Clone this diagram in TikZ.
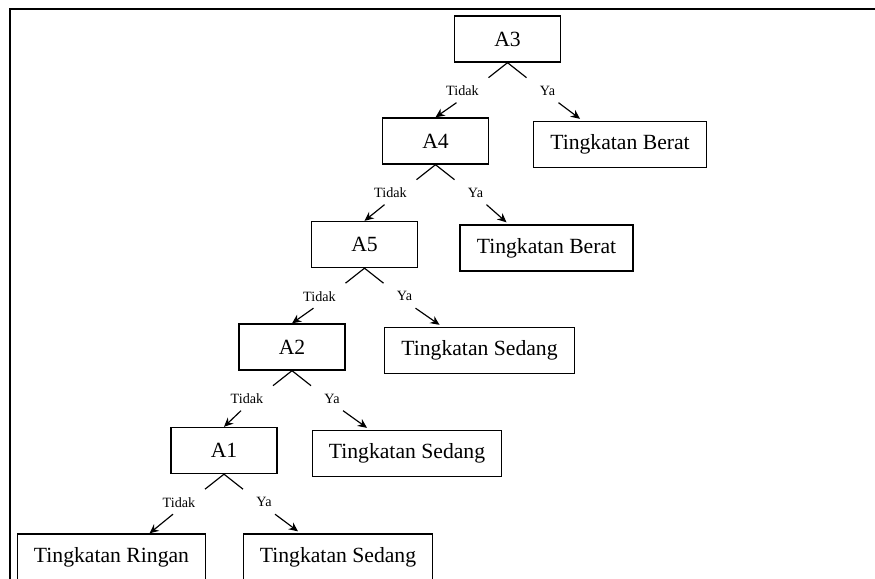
\documentclass[tikz,border=0pt]{standalone}
\usepackage{fontspec}
\setmainfont{Liberation Serif}
\usetikzlibrary{calc,arrows.meta}

\begin{document}
\begin{tikzpicture}[x=0.6pt, y=-0.6pt,
    test/.style={rectangle, draw, line width=0.8pt, minimum width=63.6pt, minimum height=27.6pt, font=\fontsize{13}{15}\selectfont},
    hasil/.style={rectangle, draw, line width=0.8pt, inner xsep=10pt, minimum height=27.6pt, font=\fontsize{13}{15}\selectfont},
    lbl/.style={inner sep=0pt, font=\fontsize{8.5}{10}\selectfont},
    frame/.style={line width=1.2pt},
    >={Stealth[length=5.5pt,width=5pt]}]
        \clip (0,0) rectangle (875,578);
        % Bingkai
        \draw[frame] (10,590) -- (10,9) -- (885,9);
        % Nodes
        \node[test] (A3) at (507.5,39) {A3};
        \node[test] (A4) at (435.5,141) {A4};
        \node[test] (A5) at (364.5,244.5) {A5};
        \node[test] (A2) at (292,347) {A2};
        \node[test] (A1) at (224,450.5) {A1};
        \node[hasil] (B1) at (620,144.5) {Tingkatan Berat};
        \node[hasil] (B2) at (546.5,248) {Tingkatan Berat};
        \node[hasil] (S1) at (479.5,350.5) {Tingkatan Sedang};
        \node[hasil] (S2) at (407,453.5) {Tingkatan Sedang};
        \node[hasil] (S3) at (338,557) {Tingkatan Sedang};
        \node[hasil] (R1) at (111.5,557) {Tingkatan Ringan};
        % Cabang
        \foreach \p/\l/\r/\d in {A3/A4/B1/0, A4/A5/B2/0, A5/A2/S1/0, A2/A1/S2/0, A1/R1/S3/38} {
            \draw[line width=0.7pt] (\p.south) -- ++(-19,15) (\p.south) -- ++(19,15);
            \node[lbl] (\p-t) at ($(\p.south)+(-45,28)$) {Tidak};
            \node[lbl] (\p-y) at ($(\p.south)+(40,28)$) {Ya};
            \draw[->, line width=0.7pt] ($(\p.south)+(-51,40)$) -- ($(\l.north)+(\d,0)$);
            \draw[->, line width=0.7pt] ($(\p.south)+(51,40)$) -- ($(\r.north)+(-40,-2)$);
        }
    \end{tikzpicture}
\end{document}
